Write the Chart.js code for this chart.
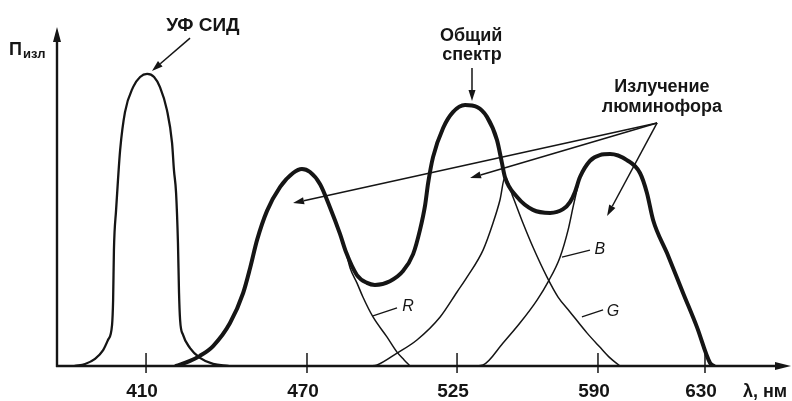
<!DOCTYPE html>
<html>
<head>
<meta charset="utf-8">
<script src="https://cdn.jsdelivr.net/npm/chart.js@4.4.0/dist/chart.umd.min.js"></script>
<style>
html,body{margin:0;padding:0;background:#fff;}
canvas{display:block;}
</style>
</head>
<body>
<canvas id="c" width="792" height="401"></canvas>
<script>
// ---------- data (wavelength in nm, relative radiant power) ----------
const tickValues = [410, 470, 525, 590, 630];
const tickLabels = ['410', '470', '525', '590', '630'];

const uvNm  = [383.7, 387.4, 391.1, 394.1, 395.9, 397.4, 397.8, 398.1, 398.9, 399.6, 400.4, 402.2, 405.2, 407.8, 410.4, 413.0, 415.2, 417.8, 419.7, 420.4, 421.2, 421.9, 422.3, 422.7, 423.8, 426.4, 430.1, 435.0, 440.6];
const uvVal = [0, 0.6, 2.1, 4.7, 7.7, 12.1, 19.5, 34.3, 46.2, 55.0, 63.9, 75.1, 82.5, 85.5, 86.4, 85.5, 82.5, 75.7, 66.0, 58.0, 51.2, 36.4, 21.6, 13.6, 9.2, 5.3, 2.4, 0.6, 0];

const totalNm  = [421.2, 426.4, 430.1, 435.0, 441.3, 446.2, 448.8, 451.4, 455.1, 460.0, 464.8, 468.1, 471.1, 474.8, 478.4, 482.1, 484.3, 488.3, 492.0, 494.9, 500.4, 505.2, 508.9, 511.4, 513.3, 514.4, 516.2, 519.9, 523.5, 528.7, 534.2, 538.8, 543.4, 545.7, 547.1, 552.7, 560.0, 567.9, 573.9, 577.1, 579.4, 581.7, 586.3, 590.7, 594.5, 600.8, 605.7, 608.3, 610.6, 615.8, 621.8, 627.0, 631.9, 633.4];
const totalVal = [0, 1.5, 3.0, 5.9, 12.7, 21.6, 29.0, 37.3, 45.9, 53.0, 57.1, 58.3, 57.4, 53.8, 47.0, 39.1, 33.7, 26.9, 24.6, 24.0, 25.1, 28.1, 33.1, 40.2, 47.6, 54.1, 61.8, 70.4, 75.1, 77.2, 76.6, 73.7, 66.9, 60.1, 55.9, 50.0, 46.2, 45.3, 46.4, 48.5, 51.5, 55.9, 60.7, 62.4, 62.7, 60.9, 57.1, 51.2, 43.2, 33.4, 21.6, 11.5, 0.9, 0];

const rNm  = [421.2, 426.4, 430.1, 435.0, 441.3, 446.2, 448.8, 451.4, 455.1, 460.0, 464.8, 468.1, 471.1, 474.8, 478.4, 482.1, 484.3, 485.8, 488.3, 490.5, 494.2, 499.3, 503.0, 505.6, 507.8];
const rVal = [0, 1.5, 3.0, 5.9, 12.7, 21.6, 29.0, 37.3, 45.9, 53.0, 57.1, 58.3, 57.4, 53.8, 47.0, 39.1, 33.7, 29.0, 24.6, 20.4, 14.5, 8.6, 4.1, 1.8, 0];

const gNm  = [493.1, 495.7, 503.0, 510.3, 518.8, 525.0, 529.6, 537.0, 541.6, 544.8, 547.1, 550.8, 555.4, 560.0, 566.5, 571.6, 577.1, 584.9, 590.7, 594.5, 598.2];
const gVal = [0, 0.3, 3.8, 7.7, 14.5, 21.9, 26.3, 34.3, 42.3, 49.1, 55.9, 50.0, 42.3, 35.2, 26.3, 20.4, 16.0, 9.8, 5.6, 2.4, 0];

const bNm  = [533.3, 537.0, 546.2, 554.0, 561.9, 567.0, 572.5, 576.2, 578.5, 580.3, 581.7, 586.3, 590.7, 594.5, 600.8, 605.7, 608.3, 610.6, 615.8, 621.8, 627.0, 631.9, 633.4];
const bVal = [0, 0.3, 6.8, 12.7, 19.5, 24.9, 32.2, 40.2, 47.0, 52.1, 55.9, 60.7, 62.4, 62.7, 60.9, 57.1, 51.2, 43.2, 33.4, 21.6, 11.5, 0.9, 0];

// ---------- drawing ----------
const INK = '#151515';
const FONT = "'Liberation Sans', Arial, sans-serif";
Chart.defaults.font.family = FONT;

// linear scale whose pixel spacing between the marked wavelengths follows the original drawing
class SegmentedScale extends Chart.LinearScale {
  static id = 'segmented';
  _toDecimal(value) {
    const bv = this.options.breakValues, bf = this.options.breakFractions;
    let i = 0;
    while (i < bv.length - 2 && value > bv[i + 1]) i++;
    return bf[i] + (value - bv[i]) / (bv[i + 1] - bv[i]) * (bf[i + 1] - bf[i]);
  }
  getPixelForValue(value) {
    if (value === null || value === undefined || isNaN(value)) return NaN;
    return this.getPixelForDecimal(this._toDecimal(value));
  }
  getValueForPixel(pixel) {
    const d = this.getDecimalForPixel(pixel);
    const bv = this.options.breakValues, bf = this.options.breakFractions;
    let i = 0;
    while (i < bf.length - 2 && d > bf[i + 1]) i++;
    return bv[i] + (d - bf[i]) / (bf[i + 1] - bf[i]) * (bv[i + 1] - bv[i]);
  }
}
Chart.register(SegmentedScale);

const mk = (xs, ys) => xs.map((x, i) => ({ x: x, y: ys[i] }));

const texts = [
  { t: 'УФ СИД', nm: 431.2, v: 99.1, font: 'bold 19px ' + FONT },
  { t: 'Общий', nm: 531.5, v: 96.2, font: 'bold 18px ' + FONT },
  { t: 'спектр', nm: 531.9, v: 90.5, font: 'bold 18px ' + FONT },
  { t: 'Излучение', nm: 613.9, v: 81.1, font: 'bold 18px ' + FONT },
  { t: 'люминофора', nm: 613.9, v: 75.1, font: 'bold 18px ' + FONT },
  { t: 'R', nm: 507.0, v: 16.3, font: 'italic 16px ' + FONT },
  { t: 'G', nm: 595.6, v: 14.8, font: 'italic 16px ' + FONT },
  { t: 'B', nm: 590.7, v: 33.1, font: 'italic 16px ' + FONT }
];
const arrows = [
  { from: [426.4, 97.0], to: [412.2, 87.3] },
  { from: [531.9, 88.2], to: [531.9, 78.4] },
  { from: [612.1, 71.9], to: [464.8, 48.2] },
  { from: [612.1, 71.9], to: [531.0, 55.6] },
  { from: [612.1, 71.9], to: [593.4, 44.4] }
];
const leaders = [
  { from: [494.2, 14.8], to: [503.0, 17.2] },
  { from: [582.6, 14.5], to: [591.9, 16.6] },
  { from: [573.4, 32.2], to: [586.3, 34.3] }
];

function arrowHead(ctx, x1, y1, x2, y2, len, half) {
  const a = Math.atan2(y2 - y1, x2 - x1);
  const bx = x2 - len * Math.cos(a), by = y2 - len * Math.sin(a);
  ctx.beginPath();
  ctx.moveTo(x1, y1);
  ctx.lineTo(bx, by);
  ctx.stroke();
  ctx.beginPath();
  ctx.moveTo(x2, y2);
  ctx.lineTo(bx + half * Math.sin(a), by - half * Math.cos(a));
  ctx.lineTo(bx - half * Math.sin(a), by + half * Math.cos(a));
  ctx.closePath();
  ctx.fill();
}

const decor = {
  id: 'decor',
  afterDatasetsDraw(chart) {
    const ctx = chart.ctx, xs = chart.scales.x, ys = chart.scales.y, ca = chart.chartArea;
    const px = nm => xs.getPixelForValue(nm), py = v => ys.getPixelForValue(v);
    ctx.save();
    ctx.strokeStyle = INK; ctx.fillStyle = INK; ctx.lineCap = 'butt';
    // axes
    ctx.lineWidth = 2.4;
    arrowHead(ctx, ca.left, ca.bottom + 1, ca.left, ca.top - 1, 15, 4);
    arrowHead(ctx, ca.left - 1, ca.bottom, 791, ca.bottom, 16, 4);
    // tick marks crossing the axis
    ctx.lineWidth = 1.5;
    tickValues.forEach(v => {
      const x = px(v);
      ctx.beginPath(); ctx.moveTo(x, ca.bottom - 13); ctx.lineTo(x, ca.bottom + 7); ctx.stroke();
    });
    // pointer arrows
    ctx.lineWidth = 1.5;
    arrows.forEach(a => arrowHead(ctx, px(a.from[0]), py(a.from[1]), px(a.to[0]), py(a.to[1]), 11, 3.5));
    ctx.lineWidth = 1.3;
    leaders.forEach(l => {
      ctx.beginPath(); ctx.moveTo(px(l.from[0]), py(l.from[1])); ctx.lineTo(px(l.to[0]), py(l.to[1])); ctx.stroke();
    });
    // texts
    ctx.textAlign = 'center'; ctx.textBaseline = 'alphabetic';
    texts.forEach(t => { ctx.font = t.font; ctx.fillText(t.t, px(t.nm), py(t.v)); });
    // axis titles
    ctx.textAlign = 'left';
    ctx.font = 'bold 18px ' + FONT; ctx.fillText('П', 9, 55);
    ctx.font = 'bold 13px ' + FONT; ctx.fillText('изл', 23, 58);
    ctx.textAlign = 'center';
    ctx.font = 'bold 18px ' + FONT; ctx.fillText('λ, нм', 765, 397);
    ctx.restore();
  }
};

const common = { borderColor: INK, pointRadius: 0, fill: false, cubicInterpolationMode: 'monotone', borderCapStyle: 'round', borderJoinStyle: 'round' };

new Chart(document.getElementById('c'), {
  type: 'line',
  data: {
    datasets: [
      Object.assign({ label: 'Общий спектр', data: mk(totalNm, totalVal), borderWidth: 4, order: 0 }, common),
      Object.assign({ label: 'УФ СИД', data: mk(uvNm, uvVal), borderWidth: 2.3, order: 1 }, common),
      Object.assign({ label: 'R', data: mk(rNm, rVal), borderWidth: 1.5, order: 2 }, common),
      Object.assign({ label: 'G', data: mk(gNm, gVal), borderWidth: 1.5, order: 3 }, common),
      Object.assign({ label: 'B', data: mk(bNm, bVal), borderWidth: 1.5, order: 4 }, common)
    ]
  },
  options: {
    responsive: false,
    animation: false,
    devicePixelRatio: 1,
    layout: { padding: { left: 57, right: 7, top: 28, bottom: 0 } },
    plugins: { legend: { display: false }, tooltip: { enabled: false } },
    scales: {
      x: {
        type: 'segmented',
        min: 377, max: 660,
        breakValues: [377, 410, 470, 525, 590, 630, 660],
        breakFractions: [0, 0.1223, 0.3434, 0.5495, 0.7431, 0.8901, 1],
        grid: { display: false, drawTicks: false },
        border: { display: false },
        ticks: { autoSkip: false, maxRotation: 0, color: INK, padding: 14, labelOffset: -4,
                 font: { size: 19, weight: 'bold' }, callback: (v, i) => tickLabels[i] },
        afterBuildTicks: s => { s.ticks = tickValues.map(v => ({ value: v })); },
        afterFit: s => { s.height = 35; }
      },
      y: { display: false, min: 0, max: 100 }
    }
  },
  plugins: [decor]
});
</script>
</body>
</html>
